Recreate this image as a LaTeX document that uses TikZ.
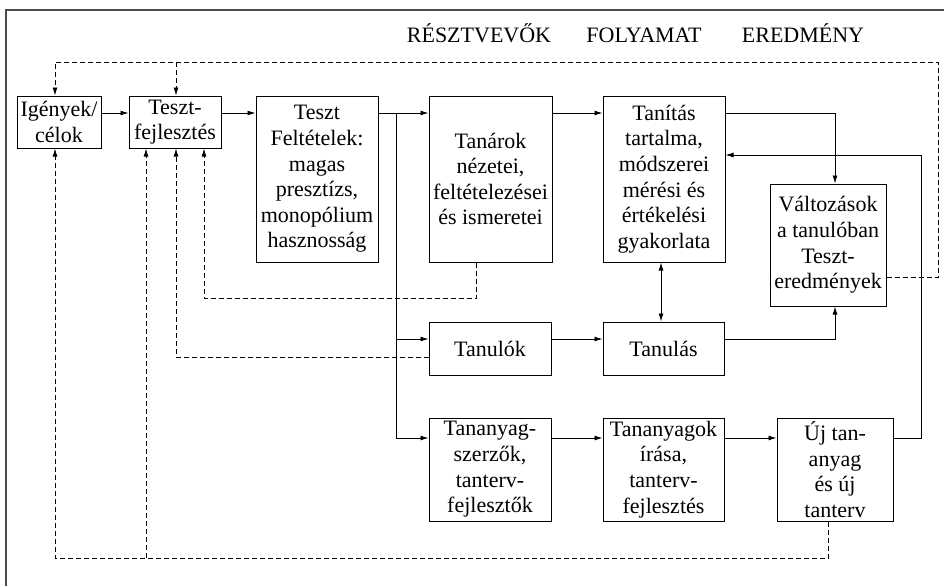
\documentclass[tikz,border=0pt]{standalone}
\usepackage{fontspec}
\setmainfont{Liberation Serif}
\usetikzlibrary{arrows.meta}
\begin{document}
\begin{tikzpicture}[x=1pt,y=-1pt,
  box/.style={draw,line width=1pt,inner sep=0pt,align=center,font=\fontsize{22}{25.6}\selectfont},
  hdr/.style={anchor=base,inner sep=0pt,font=\fontsize{22}{25.6}\selectfont},
  arr/.style={line width=0.9pt,-{Latex[length=8pt,width=5pt]}},
  darr/.style={line width=0.9pt,dashed,dash pattern=on 5pt off 3pt,-{Latex[length=8pt,width=5pt]}},
  dln/.style={line width=0.9pt,dashed,dash pattern=on 5pt off 3pt},
  frame/.style={line width=1.6pt,black!70}]
\useasboundingbox (0,0) rectangle (944,586);
\draw[frame] (6,586) -- (6,10) -- (944,10);
% headers
\node[hdr] (h1) at (479,43) {RÉSZTVEVŐK};
\node[hdr] (h2) at (644,43) {FOLYAMAT};
\node[hdr] (h3) at (803,43) {EREDMÉNY};
% boxes
\node[box,minimum width=84,minimum height=52] (igeny) at (59,122) {Igények/\\célok};
\node[box,minimum width=92,minimum height=52] (teszt) at (175,122) {Teszt-\\fejlesztés};
\node[box,minimum width=122,minimum height=166] (felt) at (317,179) {Teszt\\Feltételek:\\magas\\presztízs,\\monopólium\\hasznosság};
\node[box,minimum width=123,minimum height=166] (tanar) at (490.5,179) {Tanárok\\nézetei,\\feltételezései\\és ismeretei};
\node[box,minimum width=122,minimum height=166] (tanit) at (664,179) {Tanítás\\tartalma,\\módszerei\\mérési és\\értékelési\\gyakorlata};
\node[box,minimum width=116,minimum height=122] (valt) at (828,245) {Változások\\a tanulóban\\Teszt-\\eredmények};
\node[box,minimum width=122,minimum height=53] (tanulok) at (490,348.5) {Tanulók};
\node[box,minimum width=121,minimum height=53] (tanulas) at (663.5,348.5) {Tanulás};
\node[box,minimum width=122,minimum height=103] (szerzo) at (490,469.5) {Tananyag-\\szerzők,\\tanterv-\\fejlesztők};
\node[box,minimum width=121,minimum height=103] (irasa) at (663.5,469.5) {Tananyagok\\írása,\\tanterv-\\fejlesztés};
\node[box,minimum width=116,minimum height=103] (uj) at (835,469.5) {Új tan-\\anyag\\és új\\tanterv};
% helper coordinates
\coordinate (ya) at (0,113);
\coordinate (yl) at (0,339);
\coordinate (yb) at (0,438);
\coordinate (yr) at (0,155);
\coordinate (xv) at (835,0);
\coordinate (xt) at (661,0);
\coordinate (xr) at (921,0);
\coordinate (bx) at (396,113);
\coordinate (yv) at (0,277);
\coordinate (xR) at (938,0);
\coordinate (ytop) at (0,62);
\coordinate (xi) at (55,0);
\coordinate (xc) at (176,0);
\coordinate (xa) at (476,0);
\coordinate (yc) at (0,298);
\coordinate (xb) at (204,0);
\coordinate (yd) at (0,357);
\coordinate (xu) at (828,0);
\coordinate (ybot) at (0,558);
\coordinate (xs) at (146,0);
% solid connectors
\draw[arr] (igeny.east|-ya) -- (teszt.west|-ya);
\draw[arr] (teszt.east|-ya) -- (felt.west|-ya);
\draw[arr] (felt.east|-ya) -- (tanar.west|-ya);
\draw[arr] (tanar.east|-ya) -- (tanit.west|-ya);
\draw[arr] (tanit.east|-ya) -| (xv|-valt.north);
\draw[arr] (bx) |- (tanulok.west|-yl);
\draw[arr] (bx) |- (szerzo.west|-yb);
\draw[arr] (tanulok.east|-yl) -- (tanulas.west|-yl);
\draw[arr] (tanulas.east|-yl) -| (xv|-valt.south);
\draw[line width=0.9pt,{Latex[length=8pt,width=5pt]}-{Latex[length=8pt,width=5pt]}] (xt|-tanit.south) -- (xt|-tanulas.north);
\draw[arr] (szerzo.east|-yb) -- (irasa.west|-yb);
\draw[arr] (irasa.east|-yb) -- (uj.west|-yb);
\draw[arr] (uj.east|-yb) -| (xr|-yr) -- (tanit.east|-yr);
% dashed feedback
\draw[darr] (valt.east|-yv) -| (xR|-ytop) -| (xi|-igeny.north);
\draw[darr] (xc|-ytop) -- (xc|-teszt.north);
\draw[darr] (xa|-tanar.south) |- (xb|-yc) -- (xb|-teszt.south);
\draw[darr] (tanulok.west|-yd) -| (xc|-teszt.south);
\draw[darr] (xu|-uj.south) |- (xi|-ybot) -- (xi|-igeny.south);
\draw[darr] (xs|-ybot) -- (xs|-teszt.south);
\end{tikzpicture}
\end{document}
